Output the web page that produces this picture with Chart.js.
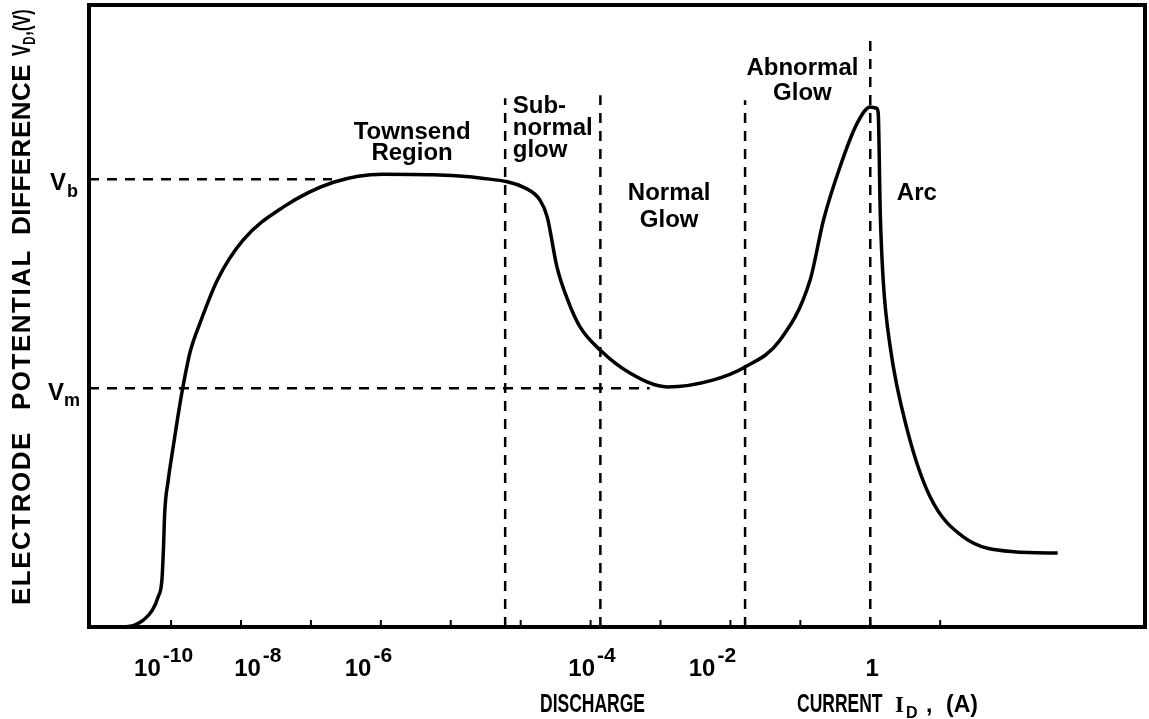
<!DOCTYPE html>
<html>
<head>
<meta charset="utf-8">
<script src="https://cdn.jsdelivr.net/npm/chart.js@4/dist/chart.umd.min.js"></script>
<style>
  body { margin: 0; background: #fff; }
  canvas { display: block; }
</style>
</head>
<body>
<canvas id="mycanvas" width="1149" height="719"></canvas>
<script>
// discharge current (A) and electrode potential difference (arbitrary units, 0..100)
var currentA = [2.19e-11, 3.0e-11, 4.0e-11, 5.4e-11, 6.5e-11, 7.4e-11, 7.8e-11, 8.1e-11,
	9.1e-11, 1.07e-10, 1.23e-10, 1.45e-10, 1.86e-10, 2.6e-10, 4.6e-10, 1.07e-9, 4.0e-9,
	2.1e-8, 1.07e-7, 5.6e-7, 2.6e-6, 1.15e-5, 1.9e-5, 2.4e-5, 3.3e-5, 4.7e-5, 7.1e-5,
	1.38e-4, 3.7e-4, 1.26e-3, 5.6e-3, 1.62e-2, 5.1e-2, 0.138, 0.214, 0.37, 0.65, 1.0,
	1.23, 1.30, 1.39, 1.53, 1.93, 3.38, 7.2, 21.4, 112, 479];
var voltage = [0, 0.3, 1.1, 2.7, 4.8, 7.6, 12.9, 18.3,
	23.6, 28.9, 33.3, 38.1, 44.1, 48.9, 55.8, 62.2, 67.5,
	71.5, 72.8, 72.7, 72.2, 70.6, 68.6, 65.9, 57.9, 52.6, 48.2,
	44.5, 40.8, 38.6, 39.7, 41.8, 46.1, 55.8, 65.4, 74.0, 81.0, 83.6,
	83.4, 82.6, 66.6, 55.8, 45.0, 31.7, 20.9, 14.5, 12.1, 11.9];

// region boundaries (A) and how high their dashed lines reach
var boundaryA = [6.0e-6, 1.38e-4, 1.62e-2, 1.0];
var boundaryTop = [85.0, 85.5, 84.7, 95.5];

// reference levels
var Vb = 72.0, VbEnd = 2.0e-8;
var Vm = 38.4, VmEnd = 7.0e-4;

// axis range
var xMin = 6.7e-12, xMax = 8.5e3;
var yMin = 0, yMax = 100;

// tick labels (the drawing places them loosely, not on the decades)
var tickLabelAt = [6.9e-11, 1.86e-9, 7.1e-8, 1.12e-4, 5.9e-3, 1.0];
var tickBase = ['10', '10', '10', '10', '10', '1'];
var tickExp = ['-10', '-8', '-6', '-4', '-2', ''];
var minorTicks = [1e-10, 1e-9, 1e-8, 1e-7, 1e-6, 1e-5, 1e-4, 1e-3, 1e-2, 1e-1, 1, 10];

// region names
var regionNames = [['Townsend', 'Region'], ['Sub-', 'normal', 'glow'], ['Normal', 'Glow'], ['Abnormal', 'Glow'], ['Arc']];
// where they sit: value x, value y of first baseline, line gap px, alignment
var regionPlace = [
	{ x: 2.8e-7, y: 78.5, gap: 21, align: 'center' },
	{ x: 7.7e-6, y: 82.6, gap: 22, align: 'left' },
	{ x: 1.33e-3, y: 68.6, gap: 27, align: 'center' },
	{ x: 0.107, y: 88.8, gap: 25, align: 'center' },
	{ x: 2.4, y: 68.6, gap: 0, align: 'left' }
];

var FONT = "'Liberation Sans', Arial, sans-serif";

var curve = [];
for (var i in currentA) {
	curve.push({ x: currentA[i], y: voltage[i] });
}

var datasets = [{
	data: curve,
	borderColor: '#000',
	borderWidth: 3.5,
	pointRadius: 0,
	cubicInterpolationMode: 'monotone',
	fill: false
}];

var dashStyle = { borderColor: '#000', borderWidth: 2.5, borderDash: [10, 8], pointRadius: 0, fill: false };

for (var j in boundaryA) {
	datasets.push(Object.assign({ data: [{ x: boundaryA[j], y: yMin }, { x: boundaryA[j], y: boundaryTop[j] }] }, dashStyle));
}
datasets.push(Object.assign({ data: [{ x: xMin, y: Vb }, { x: VbEnd, y: Vb }] }, dashStyle));
datasets.push(Object.assign({ data: [{ x: xMin, y: Vm }, { x: VmEnd, y: Vm }] }, dashStyle));

// letters one by one with extra spacing, returns end x
function spaced(ctx, text, x, y, sp) {
	for (var k = 0; k < text.length; k++) {
		ctx.fillText(text[k], x, y);
		x += ctx.measureText(text[k]).width + sp;
	}
	return x;
}

// draws frame, ticks and all the lettering
var lettering = {
	id: 'lettering',
	afterDraw: function(chart) {
		var ctx = chart.ctx, a = chart.chartArea;
		var xs = chart.scales.x, ys = chart.scales.y;
		ctx.save();
		ctx.strokeStyle = '#000';
		ctx.fillStyle = '#000';
		ctx.lineWidth = 4;
		ctx.strokeRect(a.left, a.top, a.right - a.left, a.bottom - a.top);

		ctx.lineWidth = 2;
		minorTicks.forEach(function(v) {
			var px = xs.getPixelForValue(v);
			ctx.beginPath();
			ctx.moveTo(px, a.bottom);
			ctx.lineTo(px, a.bottom - 7);
			ctx.stroke();
		});

		// x tick labels
		ctx.textBaseline = 'alphabetic';
		tickLabelAt.forEach(function(v, k) {
			var px = xs.getPixelForValue(v);
			ctx.font = 'bold 24px ' + FONT;
			if (tickExp[k] === '') {
				ctx.textAlign = 'center';
				ctx.fillText(tickBase[k], px + 2, 676);
			} else {
				ctx.textAlign = 'right';
				ctx.fillText(tickBase[k], px + 1, 676);
				ctx.font = 'bold 21px ' + FONT;
				ctx.textAlign = 'left';
				ctx.fillText(tickExp[k], px + 3, 662);
			}
		});

		// x axis title, squeezed like the original lettering
		ctx.textAlign = 'left';
		ctx.save();
		ctx.scale(0.7, 1);
		ctx.font = 'bold 25px ' + FONT;
		ctx.fillText('DISCHARGE', 540 / 0.7, 712);
		ctx.fillText('CURRENT', 797 / 0.7, 712);
		ctx.restore();
		ctx.font = "bold 23px 'Liberation Serif', serif";
		ctx.fillText('I', 895, 712);
		ctx.font = 'bold 16px ' + FONT;
		ctx.fillText('D', 906, 718);
		ctx.font = 'bold 23px ' + FONT;
		ctx.fillText(',', 926, 712);
		ctx.fillText('(A)', 946, 712);

		// Vb and Vm
		var yb = ys.getPixelForValue(Vb), ym = ys.getPixelForValue(Vm);
		ctx.font = 'bold 24px ' + FONT;
		ctx.fillText('V', 50, yb + 11);
		ctx.fillText('V', 48, ym + 12);
		ctx.font = 'bold 18px ' + FONT;
		ctx.fillText('b', 67, yb + 18);
		ctx.fillText('m', 64, ym + 18);

		// y axis title, rotated; words start at these heights
		ctx.save();
		ctx.translate(30, 0);
		ctx.rotate(-Math.PI / 2);
		ctx.font = 'bold 26px ' + FONT;
		spaced(ctx, 'ELECTRODE', -605, 0, 1.5);
		spaced(ctx, 'POTENTIAL', -410, 0, 1.5);
		spaced(ctx, 'DIFFERENCE', -235, 0, 0.5);
		// the unit part is squeezed along the text
		ctx.translate(-56, 0);
		ctx.scale(0.68, 1);
		ctx.font = 'bold 25px ' + FONT;
		var w = spaced(ctx, 'V', 0, 0, 0);
		ctx.font = 'bold 17px ' + FONT;
		w = spaced(ctx, 'D', w, 5, 0);
		ctx.font = 'bold 24px ' + FONT;
		spaced(ctx, ',(V)', w + 1, 0, 0);
		ctx.restore();

		// region names
		ctx.font = 'bold 24px ' + FONT;
		regionNames.forEach(function(lines, r) {
			var p = regionPlace[r];
			var px = xs.getPixelForValue(p.x);
			var py = ys.getPixelForValue(p.y);
			ctx.textAlign = p.align;
			lines.forEach(function(line, k) {
				ctx.fillText(line, px, py + k * p.gap);
			});
		});
		ctx.restore();
	}
};

var ctx = document.getElementById('mycanvas');

var discharge = new Chart(ctx, {
	type: 'line',
	data: { datasets: datasets },
	options: {
		responsive: false,
		animation: false,
		layout: { padding: { left: 89, top: 5, right: 4, bottom: 92 } },
		plugins: { legend: { display: false }, tooltip: { enabled: false } },
		scales: {
			x: { type: 'logarithmic', min: xMin, max: xMax, display: false },
			y: { type: 'linear', min: yMin, max: yMax, display: false }
		}
	},
	plugins: [lettering]
});
</script>
</body>
</html>
